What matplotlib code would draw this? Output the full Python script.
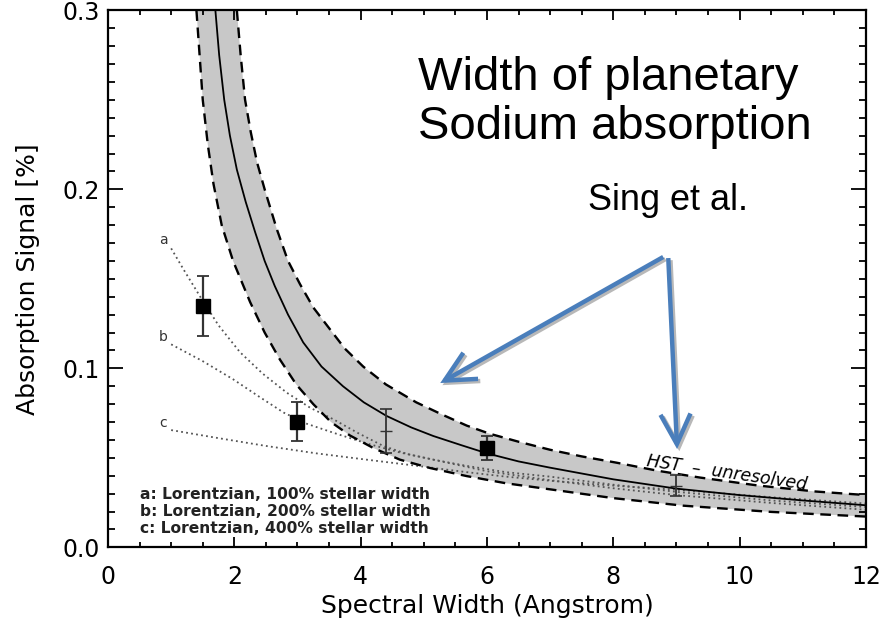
import matplotlib
matplotlib.use("Agg")
import matplotlib.pyplot as plt
from matplotlib.ticker import MultipleLocator
from matplotlib.patches import FancyArrowPatch

# model curve (solid) and its upper / lower envelopes (dashed)
model_x = [1.70, 1.76, 1.84, 1.93, 2.04, 2.18, 2.33, 2.48, 2.64, 2.85, 3.09, 3.38, 3.72,
           4.05, 4.41, 4.8, 5.15, 5.6, 6.0, 6.5, 7.0, 8.0, 9.0, 10.0, 11.0, 12.0]
model_y = [0.300, 0.275, 0.250, 0.230, 0.211, 0.193, 0.176, 0.160, 0.146, 0.130, 0.1145, 0.101, 0.090,
           0.081, 0.0734, 0.067, 0.0622, 0.057, 0.0525, 0.048, 0.0445, 0.038, 0.0328, 0.0292, 0.0262, 0.0235]

upper_x = [2.04, 2.10, 2.17, 2.26, 2.36, 2.48, 2.67, 2.85, 3.04, 3.25, 3.51, 3.75, 4.04, 4.4,
           4.88, 5.3, 5.68, 6.04, 6.5, 7.0, 7.5, 8.05, 8.7, 9.37, 10.3, 11.2, 12.0]
upper_y = [0.300, 0.275, 0.250, 0.232, 0.215, 0.200, 0.178, 0.160, 0.147, 0.134, 0.122, 0.111, 0.101, 0.091,
           0.081, 0.074, 0.068, 0.0635, 0.059, 0.0545, 0.0508, 0.0473, 0.0428, 0.039, 0.0345, 0.0312, 0.0292]

lower_x = [1.40, 1.45, 1.50, 1.58, 1.67, 1.80, 1.98, 2.25, 2.48, 2.72, 2.98, 3.25, 3.53, 3.83,
           4.2, 4.62, 5.1, 5.68, 6.3, 7.0, 8.0, 9.1, 10.5, 12.0]
lower_y = [0.300, 0.275, 0.250, 0.225, 0.203, 0.180, 0.160, 0.137, 0.120, 0.105, 0.091, 0.080, 0.070, 0.0625,
           0.0555, 0.049, 0.0443, 0.0398, 0.0358, 0.0324, 0.0275, 0.0233, 0.0198, 0.0172]

# Lorentzian profiles (dotted)
lor_a_x = [1.0, 1.2, 1.46, 1.75, 2.09, 2.45, 2.83, 3.2, 3.57, 3.95, 4.36, 4.75, 5.15, 6.0, 7.0, 8.0, 9.0, 10.5, 12.0]
lor_a_y = [0.167, 0.155, 0.140, 0.124, 0.109, 0.097, 0.0864, 0.078, 0.0715, 0.064, 0.0566, 0.052, 0.049,
           0.0425, 0.0375, 0.0330, 0.0292, 0.0248, 0.0210]
lor_b_x = [1.0, 1.5, 1.98, 2.4, 2.78, 3.15, 3.57, 4.1, 4.62, 5.15, 5.68, 6.3, 7.0, 8.0, 9.0, 10.5, 12.0]
lor_b_y = [0.1134, 0.104, 0.0939, 0.084, 0.0753, 0.069, 0.064, 0.058, 0.053, 0.049, 0.0455, 0.042, 0.0395,
           0.0350, 0.0310, 0.0262, 0.0225]
lor_c_x = [1.0, 1.75, 2.51, 3.3, 4.09, 4.9, 5.68, 6.3, 7.0, 8.0, 9.0, 10.5, 12.0]
lor_c_y = [0.0655, 0.061, 0.0566, 0.0525, 0.049, 0.0455, 0.042, 0.0395, 0.0372, 0.0345, 0.0322, 0.0280, 0.0245]
lor_labels = ["a", "b", "c"]
lor_label_y = [0.1717, 0.1173, 0.0693]
lor_legend = ["a: Lorentzian, 100% stellar width",
              "b: Lorentzian, 200% stellar width",
              "c: Lorentzian, 400% stellar width"]

# measurements
obs_x = [1.5, 3.0, 6.0]
obs_y = [0.1348, 0.0702, 0.0556]
obs_err = [0.017, 0.011, 0.0068]
hst_x = [4.4, 9.0]
hst_y = [0.065, 0.0344]
hst_err = [0.0122, 0.0058]

fig = plt.figure(figsize=(8.86, 6.21), dpi=100)
ax = fig.add_axes([0.1219, 0.1186, 0.8555, 0.8648])

ax.fill(upper_x + lower_x[::-1], upper_y + lower_y[::-1], color="#c8c8c8", lw=0, zorder=1)

dotc = "#555555"
for lx, ly in [(lor_a_x, lor_a_y), (lor_b_x, lor_b_y), (lor_c_x, lor_c_y)]:
    ax.plot(lx, ly, ls=(0, (1, 1.8)), color=dotc, lw=1.3, zorder=2)
for lab, ly in zip(lor_labels, lor_label_y):
    ax.text(0.876, ly, lab, fontsize=10, color="#333333", ha="center", va="center")

ax.plot(upper_x, upper_y, color="black", lw=1.7, dashes=(4.5, 2.8), zorder=3)
ax.plot(lower_x, lower_y, color="black", lw=1.7, dashes=(4.5, 2.8), zorder=3)
ax.plot(model_x, model_y, color="black", lw=1.3, zorder=3)

ax.errorbar(obs_x, obs_y, yerr=obs_err, fmt="s", color="black", ms=10,
            ecolor="#333333", elinewidth=1.6, capsize=4, capthick=1.3, zorder=4)
ax.errorbar(hst_x, hst_y, yerr=hst_err, fmt="_", color="#333333", ms=8,
            ecolor="#333333", elinewidth=1.3, capsize=4, capthick=1.2, zorder=4)

for i, t in enumerate(lor_legend):
    ax.text(0.507, 0.0298 - i * 0.0095, t, fontsize=11.2, fontweight="bold",
            color="#222222", va="center", ha="left")

ax.text(8.52, 0.0454, "HST  \u2013  unresolved", fontsize=12.5, style="italic",
        rotation=-8.5, rotation_mode="anchor", ha="left", va="baseline", zorder=5)

ax.text(4.9, 0.2745, "Width of planetary\nSodium absorption", fontsize=34,
        family="Liberation Sans", ha="left", va="top", linespacing=1.15)
ax.text(7.6, 0.2035, "Sing et al.", fontsize=26, family="Liberation Sans",
        ha="left", va="top")

# blue call-out arrows with a soft shadow
blue = "#4a7ebb"
arrows = [((8.79, 0.1622), (5.26, 0.0918)), ((8.87, 0.1616), (9.01, 0.0549))]
for (x0, y0), (x1, y1) in arrows:
    for dx, dy, col, z in [(0.035, -0.0012, "#b8b8b8", 5), (0, 0, blue, 6)]:
        a = FancyArrowPatch((x0 + dx, y0 + dy), (x1 + dx, y1 + dy),
                            arrowstyle="->,head_length=0.9,head_width=0.45",
                            mutation_scale=24, lw=3.2, color=col, zorder=z,
                            shrinkA=0, shrinkB=0, joinstyle="miter", capstyle="butt")
        ax.add_patch(a)

ax.set_xlim(0, 12)
ax.set_ylim(0, 0.3)
ax.xaxis.set_major_locator(MultipleLocator(2))
ax.xaxis.set_minor_locator(MultipleLocator(0.5))
ax.yaxis.set_minor_locator(MultipleLocator(0.01))
ax.set_yticks([0.0, 0.1, 0.2, 0.3])
ax.set_yticklabels(["0.0", "0.1", "0.2", "0.3"])
ax.tick_params(which="both", direction="in", top=True, right=True, width=1.3,
               labelsize=17, color="black")
ax.tick_params(axis="x", which="major", length=7, pad=13)
ax.tick_params(axis="x", which="minor", length=3.5)
ax.tick_params(axis="y", which="major", length=11, pad=6)
ax.tick_params(axis="y", which="minor", length=5)
for s in ax.spines.values():
    s.set_linewidth(1.6)

ax.set_xlabel("Spectral Width (Angstrom)", fontsize=18, labelpad=3)
ax.set_ylabel("Absorption Signal [%]", fontsize=18, labelpad=16)

fig.savefig("out.png", dpi=100)
